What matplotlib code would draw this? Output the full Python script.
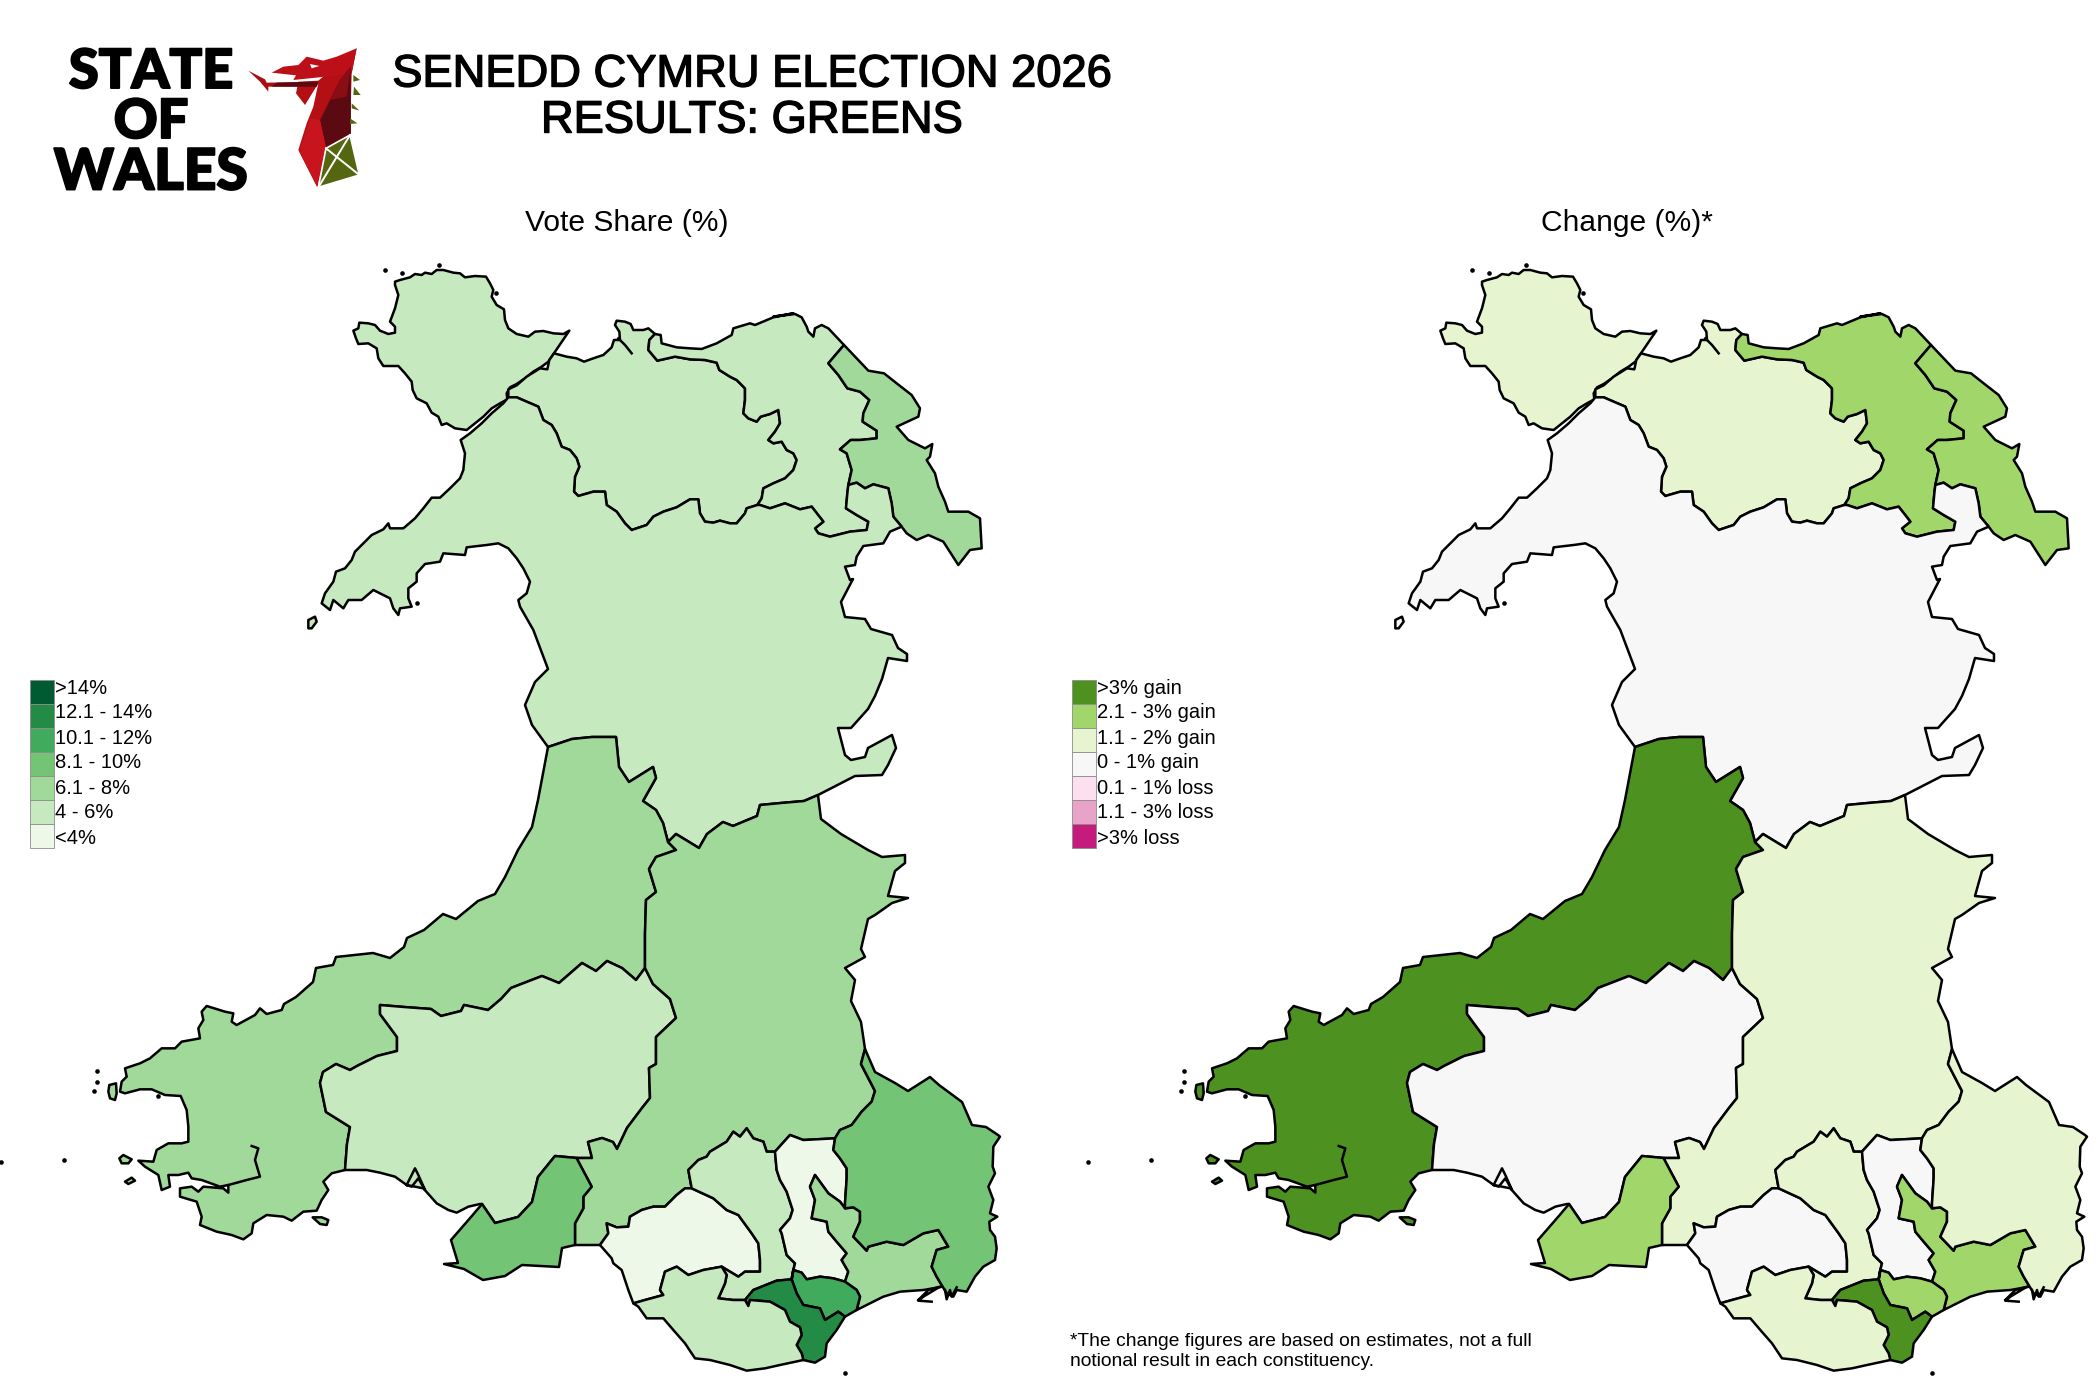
import matplotlib
matplotlib.use("Agg")
import matplotlib.pyplot as plt
from matplotlib.patches import Polygon, Rectangle
import matplotlib.patheffects as pe

plt.rcParams['font.family'] = ['Liberation Sans', 'DejaVu Sans']

# band labels and colours, as in the two keys
share_labels = [">14%", "12.1 - 14%", "10.1 - 12%", "8.1 - 10%", "6.1 - 8%", "4 - 6%", "<4%"]
share_colours = ["#005a32", "#238b45", "#41ab5d", "#74c476", "#a1d99b", "#c7e9c0", "#edf8e9"]
change_labels = [">3% gain", "2.1 - 3% gain", "1.1 - 2% gain", "0 - 1% gain", "0.1 - 1% loss", "1.1 - 3% loss", ">3% loss"]
change_colours = ["#4d9221", "#a1d76a", "#e6f5d0", "#f7f7f7", "#fde0ef", "#e9a3c9", "#c51b7d"]

# constituencies and their band on each map
seats = ["Bangor Conwy Mon", "Clwyd", "Fflint Wrecsam", "Gwynedd Maldwyn", "Ceredigion Penfro",
         "Sir Gaerfyrddin", "Brycheiniog Tawe Nedd", "Gwyr Abertawe", "Afan Ogwr Rhondda",
         "Pontypridd Cynon Merthyr", "Blaenau Gwent Rhymni", "Casnewydd Islwyn", "Sir Fynwy Torfaen",
         "Caerdydd Ffynnon Taf", "Caerdydd Penarth", "Pen-y-bont Bro Morgannwg"]
seat_share = ["4 - 6%", "4 - 6%", "6.1 - 8%", "4 - 6%", "6.1 - 8%",
              "4 - 6%", "6.1 - 8%", "8.1 - 10%", "<4%",
              "4 - 6%", "<4%", "6.1 - 8%", "8.1 - 10%",
              "10.1 - 12%", "12.1 - 14%", "4 - 6%"]
seat_change = ["1.1 - 2% gain", "2.1 - 3% gain", "2.1 - 3% gain", "0 - 1% gain", ">3% gain",
               "0 - 1% gain", "1.1 - 2% gain", "2.1 - 3% gain", "0 - 1% gain",
               "1.1 - 2% gain", "0 - 1% gain", "2.1 - 3% gain", "1.1 - 2% gain",
               "2.1 - 3% gain", ">3% gain", "1.1 - 2% gain"]


def tr(x0, y0, pts):
    # outlines were read at 3x off crops of the map, bring them back to pixels
    return [(x0 + x / 3, y0 + y / 3) for x, y in pts]


def north(pts):
    return tr(300, 260, pts)


def ne(pts):
    return tr(760, 300, pts)


def sw(pts):
    return tr(90, 1000, pts)


def se(pts):
    return tr(570, 1090, pts)


# boundary chains
anglesey = north([(285, 65), (300, 60), (330, 52), (345, 42), (365, 45), (375, 38), (395, 42), (410, 30), (430, 30),
                  (460, 38), (480, 40), (495, 52), (525, 48), (558, 50), (570, 70), (580, 90), (575, 110), (590, 135),
                  (612, 148), (615, 180), (625, 205), (650, 222), (685, 230), (705, 215), (730, 213), (760, 220),
                  (790, 222), (808, 212), (770, 268), (755, 290), (745, 305), (725, 320), (700, 335), (675, 355),
                  (650, 372), (630, 382), (620, 400), (622, 418), (600, 430), (575, 445), (550, 470), (525, 490),
                  (500, 510), (465, 505), (440, 490), (425, 495), (415, 470), (395, 458), (380, 430), (350, 415),
                  (338, 390), (335, 365), (315, 340), (295, 318), (250, 318), (235, 295), (230, 265), (205, 250),
                  (175, 252), (168, 235), (160, 212), (175, 205), (178, 188), (205, 190), (225, 195), (240, 212),
                  (265, 222), (285, 218), (285, 200), (270, 185), (285, 145), (295, 105), (285, 75)])
menai_south = north([(510, 520), (545, 490), (575, 460), (610, 430), (625, 412)])
conwy_coast = north([(625, 412), (625, 388), (650, 376), (680, 350), (720, 325), (742, 328), (748, 300), (762, 280),
                     (800, 290), (830, 295), (852, 305), (880, 295), (910, 285), (935, 262), (942, 240), (960, 240),
                     (958, 215), (945, 195), (950, 182), (975, 185), (992, 192), (1000, 210), (1030, 210), (1045, 205),
                     (1065, 222)])
conwy_clwyd = north([(1065, 222), (1048, 240), (1045, 270), (1072, 302), (1125, 290), (1170, 298), (1215, 300),
                     (1250, 308), (1258, 330), (1290, 350), (1310, 360), (1335, 385), (1335, 420), (1330, 460),
                     (1345, 475), (1370, 485), (1382, 470), (1410, 462), (1435, 450), (1440, 490), (1425, 515),
                     (1405, 540), (1420, 550), (1445, 545), (1460, 570), (1480, 580), (1490, 600), (1480, 630),
                     (1455, 655), (1420, 670), (1390, 685), (1385, 715), (1372, 735)])
conwy_gwynedd = north([(1372, 735), (1340, 745), (1335, 760), (1310, 790), (1290, 790), (1260, 782), (1240, 788),
                       (1215, 785), (1200, 760), (1195, 718), (1170, 718), (1130, 742), (1090, 755), (1060, 770),
                       (1040, 795), (995, 810), (975, 790), (950, 755), (920, 735), (915, 695), (880, 695), (835, 708),
                       (822, 695), (825, 650), (838, 620), (830, 595), (810, 570), (785, 560), (770, 520), (755, 495),
                       (730, 480), (715, 440), (680, 425), (650, 412), (625, 412)])
clwyd_coast = north([(1065, 222), (1082, 225), (1085, 250), (1130, 262), (1170, 265), (1205, 267), (1250, 250),
                     (1295, 225), (1300, 205), (1350, 190), (1365, 195), (1420, 172), (1480, 160)]) + \
    ne([(40, 50), (105, 42), (125, 52), (140, 80), (145, 95), (160, 110), (165, 85), (185, 75), (205, 85), (252, 135)])
clwyd_fflint = ne([(252, 135), (205, 190), (235, 225), (262, 265), (300, 275), (328, 300), (310, 340), (308, 365),
                   (350, 392), (350, 415), (300, 420), (272, 420), (240, 448), (260, 460), (275, 510), (265, 555)])
clwyd_gwynedd = ne([(265, 555), (262, 580), (258, 625), (290, 645), (325, 665), (320, 690), (270, 695), (210, 710),
                    (175, 700), (165, 685), (190, 665), (155, 620), (120, 628), (75, 610), (30, 625), (0, 615)])
fflint_coast = ne([(252, 135), (290, 175), (325, 212), (372, 220), (410, 250), (455, 285), (480, 325), (475, 350),
                   (410, 380), (445, 420), (495, 445), (517, 432), (510, 470), (500, 480), (525, 520), (535, 560),
                   (555, 605), (565, 635), (625, 635), (660, 655), (665, 745), (630, 750), (595, 795), (550, 725),
                   (505, 705), (470, 720), (440, 700), (425, 680)])
fflint_gwynedd = ne([(425, 680), (400, 650), (395, 610), (385, 565), (340, 553), (315, 565), (290, 548), (265, 555)])
gwynedd_east = ne([(425, 680), (390, 695), (370, 730), (310, 738), (290, 770), (285, 795), (255, 800), (270, 840)]) + \
    [(853, 579), (841, 602), (845, 617), (865, 619), (871, 629), (892, 635), (898, 648), (907, 654),
     (907, 661), (888, 658), (882, 679), (875, 696), (868, 709), (851, 728), (838, 728), (845, 755), (851, 760),
     (865, 757), (868, 748), (892, 735), (896, 748), (888, 765), (882, 775), (855, 776), (818, 795)]
gwynedd_brec = [(818, 795), (804, 801), (781, 803), (760, 805), (757, 816), (733, 826), (723, 822), (707, 834),
                (699, 848), (676, 834), (668, 842)]
gwynedd_cered = [(668, 842), (663, 823), (656, 810), (643, 801), (656, 778), (653, 767), (629, 782), (619, 767),
                 (616, 737), (592, 737), (572, 739), (548, 747)]
gwynedd_west = [(532, 725), (525, 705), (535, 682), (548, 669)] + \
    north([(700, 1110), (660, 1040), (655, 1020), (680, 1000), (690, 965), (670, 925), (650, 895), (625, 865),
           (595, 850), (560, 855), (500, 862), (495, 885), (430, 880), (420, 905), (375, 912), (350, 940), (350, 965),
           (325, 985), (325, 1015), (335, 1040), (300, 1045), (295, 1065), (280, 1045), (270, 1015), (220, 990),
           (185, 1020), (145, 1020), (130, 1045), (100, 1020), (90, 1050), (65, 1030), (75, 1000), (100, 965),
           (108, 935), (135, 925), (155, 900), (165, 875), (185, 855), (215, 825), (250, 808), (265, 790), (270, 805),
           (310, 805), (345, 775), (370, 745), (395, 713), (420, 713), (450, 685), (480, 655), (490, 630), (495, 580),
           (482, 540), (510, 520)])
cered_coast = [(538, 800), (532, 827), (518, 850), (505, 877), (495, 894), (478, 901), (456, 919), (443, 914),
               (424, 930), (407, 938), (404, 947), (390, 958), (373, 953), (336, 957), (333, 965), (316, 968),
               (313, 982), (296, 997), (284, 1004)] + \
    sw([(575, 30), (530, 42), (510, 25), (495, 45), (440, 75), (425, 65), (430, 40), (405, 35), (350, 18), (335, 35),
        (340, 60), (325, 85), (330, 115), (275, 125), (255, 145), (215, 145), (180, 175), (150, 190), (105, 205),
        (110, 230), (95, 245), (90, 275), (105, 280), (150, 268), (185, 268), (225, 285), (272, 288), (290, 330),
        (295, 380), (295, 425), (275, 430), (235, 430), (200, 450), (190, 485), (145, 482), (165, 500), (205, 525),
        (215, 570), (240, 560), (235, 525), (265, 525), (295, 518), (305, 535), (335, 540), (390, 560), (415, 555),
        (415, 578), (400, 565), (340, 560), (325, 575), (305, 560), (270, 565), (270, 590), (320, 605), (335, 650),
        (330, 675), (380, 695), (425, 705), (460, 718), (485, 700), (490, 670), (530, 645), (580, 650), (605, 662),
        (640, 635), (680, 632), (695, 600), (715, 570), (700, 545), (725, 520), (765, 510)])
carm_cered = [(645, 968), (636, 980), (622, 968), (607, 961), (596, 971), (582, 963), (559, 983), (542, 976),
              (511, 988), (501, 999), (488, 1010), (464, 1005), (461, 1011), (441, 1016), (431, 1009), (404, 1007),
              (380, 1005), (380, 1014), (397, 1037), (397, 1051), (377, 1056), (357, 1066), (350, 1070), (336, 1064),
              (323, 1072), (320, 1083), (326, 1112), (350, 1127), (347, 1144), (345, 1170)]
carm_coast = sw([(765, 510), (830, 510), (870, 518), (915, 530), (950, 555), (1000, 565), (1040, 610), (1075, 630),
                 (1100, 638), (1135, 620), (1170, 612)])
carm_gower = [(482, 1204), (495, 1223), (518, 1217), (532, 1202), (538, 1177), (555, 1156), (577, 1158)]
brec_carm = [(577, 1158), (592, 1158), (588, 1142), (602, 1138), (613, 1142), (617, 1149), (627, 1128), (642, 1108),
             (650, 1098), (649, 1068), (656, 1064), (656, 1037), (676, 1018), (670, 999), (653, 984), (645, 968)]
brec_cered = [(645, 968), (645, 934), (646, 900), (656, 892), (649, 869), (656, 857), (676, 850), (668, 842)]
brec_east = [(818, 795), (821, 819), (841, 834), (868, 850), (882, 857), (905, 855), (905, 863), (895, 871), (888, 896),
             (908, 898), (892, 903), (875, 915), (868, 919), (861, 949), (865, 957), (845, 968), (855, 980), (851, 1001),
             (861, 1022), (865, 1049)]
brec_monmouth = [(865, 1049), (861, 1064), (875, 1091)] + se([(905, 35), (875, 65), (845, 105), (810, 120), (795, 145)])
brec_blaenau = se([(795, 145), (700, 150), (660, 135), (615, 185)])
brec_cynon = se([(615, 185), (590, 185), (580, 155), (550, 145), (530, 115), (510, 140), (490, 125), (470, 155),
                 (420, 185), (410, 200), (385, 210), (355, 240), (365, 295)])
brec_afan = se([(365, 295), (345, 295), (320, 315), (285, 350), (250, 350), (215, 360), (180, 380), (175, 410),
                (140, 412), (110, 400), (115, 430), (90, 465)])
brec_coast = se([(90, 465), (70, 465), (15, 465)])
brec_gower = se([(15, 465), (15, 400), (40, 355), (40, 320), (65, 290), (20, 205)])
gower_coast = se([(15, 465)]) + [(562, 1248), (559, 1267), (522, 1265), (505, 1276), (483, 1280), (464, 1269),
                                 (444, 1264), (458, 1263), (451, 1240), (471, 1217), (482, 1204)]
mon_east = [(875, 1072), (895, 1083), (908, 1091), (930, 1077), (939, 1085), (962, 1102), (972, 1125), (986, 1127),
            (998, 1135)] + \
    se([(1290, 140), (1270, 170), (1268, 230), (1275, 250), (1255, 290), (1270, 330), (1260, 370), (1282, 380),
        (1258, 395), (1260, 420), (1275, 440), (1280, 475), (1275, 510), (1240, 530), (1215, 560), (1190, 605),
        (1160, 600), (1150, 620), (1130, 610), (1118, 590)])
mon_newport = se([(1118, 590), (1100, 560), (1085, 530), (1100, 480), (1135, 470), (1105, 420), (1060, 430),
                  (1000, 465), (950, 455), (895, 470), (890, 482), (850, 440), (870, 395), (870, 365), (850, 352),
                  (825, 355)])
mon_blaenau = se([(825, 355), (825, 340), (830, 265), (830, 235), (810, 205), (790, 180), (795, 145)])
newport_coast = se([(1118, 590), (1060, 600), (990, 605), (940, 620), (900, 640), (860, 660)])
newport_cardiff = se([(860, 660), (870, 620), (860, 600), (825, 575)])
blaenau_newport = se([(825, 575), (835, 545), (815, 510), (830, 490), (800, 455), (775, 425), (770, 395), (725, 385),
                      (735, 330), (720, 290), (735, 255), (775, 310), (810, 335), (825, 355)])
blaenau_cynon = se([(615, 185), (620, 240), (630, 270), (650, 305), (668, 360), (660, 385), (630, 420), (635, 430),
                    (650, 495), (675, 520), (670, 540)])
blaenau_cardiff = se([(670, 540), (695, 548), (710, 568), (750, 560), (790, 565), (825, 575)])
cardiff_split = se([(825, 680), (805, 665), (765, 690), (750, 655), (700, 645), (680, 610), (665, 568), (670, 540)])
cynon_cardiff = se([(665, 568), (620, 572), (550, 600), (525, 630)])
bro_cardiff = se([(525, 630), (535, 648), (540, 630), (600, 635), (645, 660), (660, 695), (690, 712), (695, 735),
                  (680, 765), (695, 790), (700, 810)])
penarth_coast = se([(700, 810), (735, 818), (765, 800), (770, 760), (800, 720), (825, 680)])
bro_cynon = se([(525, 630), (490, 630), (445, 625), (465, 580), (470, 555), (455, 530)])
afan_cynon = se([(455, 530), (505, 560), (525, 545), (570, 545), (570, 510), (565, 460), (545, 430), (505, 375),
                 (470, 360), (430, 325), (365, 295)])
afan_bro = se([(455, 530), (400, 540), (355, 555), (320, 530), (285, 545), (270, 600), (280, 615), (225, 630), (190, 640)])
afan_coast = se([(190, 640), (175, 600), (155, 540), (130, 520), (125, 505), (90, 465)])
bro_coast = se([(700, 810), (630, 825), (585, 835), (530, 842), (480, 825), (420, 810), (375, 805), (345, 760),
                (310, 720), (280, 685), (230, 685), (205, 650), (190, 640)])

# islands
bardsey = north([(25, 1080), (45, 1070), (50, 1085), (35, 1105), (25, 1105)])
ramsey = sw([(58, 255), (78, 250), (80, 280), (75, 300), (60, 295), (55, 275)])
skomer = sw([(88, 475), (100, 465), (125, 478), (115, 490), (95, 490)])
skokholm = sw([(105, 545), (125, 533), (135, 542), (115, 552)])
caldey = sw([(668, 652), (695, 652), (715, 660), (710, 675), (690, 672)])

# estuary lines and rocks that only show as ink
ink_lines = [north([(955, 235), (975, 255), (995, 280)]),
             sw([(485, 438), (505, 445), (495, 480), (510, 530), (470, 540), (415, 555)]),
             sw([(950, 555), (975, 505), (985, 525), (1005, 570), (985, 535), (965, 560), (950, 555)]),
             se([(1045, 630), (1075, 600), (1110, 590), (1060, 620), (1045, 632), (1085, 635)]),
             se([(1125, 600), (1130, 628), (1140, 600), (1145, 620), (1160, 592)])]
rocks = north([(255, 30), (305, 40), (418, 16), (588, 98), (352, 1028)]) + \
    sw([(22, 212), (22, 245), (12, 272), (205, 288)]) + [(64, 1160), (1, 1162), (845, 1373)]


def back(chain):
    return chain[::-1]


seat_rings = [
    [anglesey, conwy_coast + conwy_clwyd + conwy_gwynedd],
    [clwyd_coast + clwyd_fflint + clwyd_gwynedd + back(conwy_clwyd)],
    [fflint_coast + fflint_gwynedd + back(clwyd_fflint)],
    [menai_south + back(conwy_gwynedd) + back(clwyd_gwynedd) + back(fflint_gwynedd) + gwynedd_east + gwynedd_brec
     + gwynedd_cered + gwynedd_west, bardsey],
    [cered_coast + back(carm_cered) + brec_cered + gwynedd_cered, ramsey, skomer, skokholm, caldey],
    [carm_coast + carm_gower + brec_carm + carm_cered],
    [brec_east + brec_monmouth + brec_blaenau + brec_cynon + brec_afan + brec_coast + brec_gower + brec_carm
     + brec_cered + back(gwynedd_brec)],
    [carm_gower + back(brec_gower) + gower_coast],
    [back(brec_afan) + back(afan_cynon) + afan_bro + afan_coast],
    [back(brec_cynon) + blaenau_cynon + cynon_cardiff + bro_cynon + afan_cynon],
    [brec_blaenau + blaenau_cynon + blaenau_cardiff + blaenau_newport + mon_blaenau],
    [back(mon_newport) + newport_coast + newport_cardiff + blaenau_newport],
    [mon_east + mon_newport + mon_blaenau + back(brec_monmouth)],
    [blaenau_cardiff + back(newport_cardiff) + se([(825, 680)]) + cardiff_split],
    [cynon_cardiff + bro_cardiff + penarth_coast + cardiff_split],
    [back(afan_bro) + back(bro_cynon) + bro_cardiff + bro_coast],
]


def draw_map(ax, bands, labels, colours):
    colour_of = dict(zip(labels, colours))
    for rings, band in zip(seat_rings, bands):
        for ring in rings:
            ax.add_patch(Polygon(ring, closed=True, facecolor=colour_of[band], edgecolor="black",
                                 linewidth=1.8, joinstyle="round"))
    for line in ink_lines:
        ax.plot([p[0] for p in line], [p[1] for p in line], color="black", linewidth=1.8)
    ax.scatter([p[0] for p in rocks], [p[1] for p in rocks], s=11, color="black", linewidths=0)


def draw_key(ax, x, labels, colours):
    top = 680
    step = 24
    for i, (lab, col) in enumerate(zip(labels, colours)):
        ax.add_patch(Rectangle((x, top + i * step), 24, step, facecolor=col, edgecolor="#8c8c8c", linewidth=0.6))
        # the key's text runs on a slightly wider step than its swatches
        ax.text(x + 25, 688 + i * 25, lab, fontsize=14.5, va="center", ha="left")


def draw_logo(ax):
    thick = [pe.withStroke(linewidth=1.4, foreground="black")]
    for word, y, size in zip(["STATE", "OF", "WALES"], [68, 118, 168], [39, 39, 41]):
        ax.text(151, y, word, family="Lato", weight="black", fontsize=size, ha="center", va="center_baseline",
                path_effects=thick)

    def z(pts):
        return tr(240, 40, pts)

    ax.add_patch(Polygon(z([(350, 25), (335, 100), (330, 285), (258, 325), (232, 442), (175, 330), (200, 250),
                            (220, 200), (235, 130), (195, 195), (168, 160), (175, 125), (235, 122)]),
                         facecolor="#b50f16"))
    ax.add_patch(Polygon(z([(95, 98), (130, 80), (175, 75), (200, 50), (250, 62), (290, 50), (350, 25), (335, 100),
                            (238, 112), (160, 120), (168, 106)]), facecolor="#bd0f17"))
    ax.add_patch(Polygon(z([(25, 92), (75, 118), (80, 128), (235, 125), (230, 140), (85, 140), (85, 155), (60, 125)]),
                         facecolor="#a80d14"))
    ax.add_patch(Polygon(z([(110, 128), (235, 125), (230, 140), (95, 140)]), facecolor="#5c0a10"))
    ax.add_patch(Polygon(z([(210, 72), (238, 78), (215, 85)]), facecolor="white"))
    ax.add_patch(Polygon(z([(332, 80), (333, 283), (258, 322), (240, 240), (270, 180), (300, 120)]), facecolor="#5a0a10"))
    ax.add_patch(Polygon(z([(300, 120), (332, 80), (320, 170), (270, 180)]), facecolor="#8a0c14"))
    ax.add_patch(Polygon(z([(210, 235), (240, 240), (258, 322), (232, 442), (178, 335)]), facecolor="#c8141c"))
    ax.add_patch(Polygon(z([(330, 285), (358, 405), (235, 442), (258, 325)]), facecolor="#556610",
                         edgecolor="white", linewidth=1.2))
    for a, b in [((330, 285), (235, 442)), ((258, 325), (358, 405))]:
        ax.plot(*zip(*z([a, b])), color="white", linewidth=1.4)
    for spike in [[(340, 105), (360, 120), (340, 125)], [(342, 140), (362, 165), (340, 165)],
                  [(335, 190), (358, 212), (335, 205)], [(330, 235), (352, 250), (330, 252)]]:
        ax.add_patch(Polygon(z(spike), facecolor="#556610"))


fig = plt.figure(figsize=(21, 14), dpi=100)
ax_left = fig.add_axes([0, 0, 1, 1])
ax_right = fig.add_axes([0, 0, 1, 1])
ax_left.set_xlim(0, 2100)
ax_right.set_xlim(-1087, 1013)
for ax in (ax_left, ax_right):
    ax.set_ylim(1400, 0)
    ax.axis("off")
ax_right.patch.set_alpha(0)

draw_map(ax_left, seat_share, share_labels, share_colours)
draw_map(ax_right, seat_change, change_labels, change_colours)
draw_key(ax_left, 30, share_labels, share_colours)
draw_key(ax_left, 1072, change_labels, change_colours)
draw_logo(ax_left)

heavy = [pe.withStroke(linewidth=1.0, foreground="black")]
ax_left.text(752, 75, "SENEDD CYMRU ELECTION 2026", fontsize=32.6, ha="center", va="center", path_effects=heavy)
ax_left.text(752, 121, "RESULTS: GREENS", fontsize=32.6, ha="center", va="center", path_effects=heavy)
ax_left.text(627, 223, "Vote Share (%)", fontsize=21.6, ha="center", va="center")
ax_left.text(1627, 223, "Change (%)*", fontsize=21.6, ha="center", va="center")
ax_left.text(1070, 1341, "*The change figures are based on estimates, not a full", fontsize=13.9, va="center")
ax_left.text(1070, 1361, "notional result in each constituency.", fontsize=13.9, va="center")

fig.savefig("out.png", dpi=100)
